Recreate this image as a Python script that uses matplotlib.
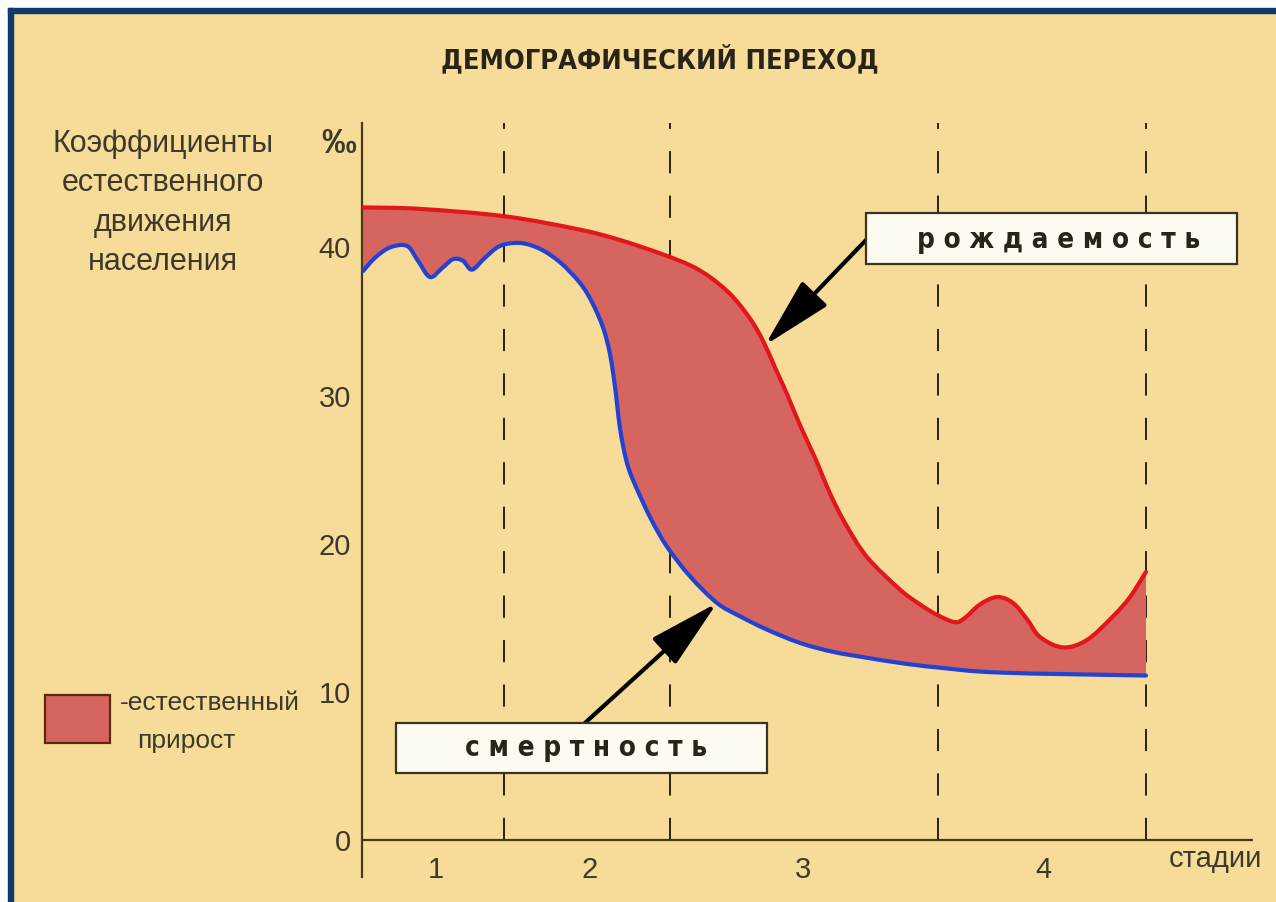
import matplotlib
matplotlib.use('Agg')
import matplotlib.pyplot as plt
from matplotlib.patches import Rectangle, PathPatch
from matplotlib.path import Path
import numpy as np

# birth rate (red) and death rate (blue), per mille; x is an arbitrary time scale
birth_x = [0.1, 5.8, 14.3, 21.8, 25.8, 29.8, 32.8, 34.8, 36.6, 37.8, 39.0, 40.1, 41.3, 42.5,
           43.8, 45.3, 46.8, 48.3, 50.5, 53.8, 55.8, 57.5, 59.3, 60.3, 61.8, 63.5, 65.1, 66.5,
           67.8, 70.1, 72.5, 75.1, 76.8, 78.4]
birth_y = [42.7, 42.6, 42.1, 41.2, 40.5, 39.6, 38.8, 38.0, 37.0, 36.1, 35.0, 33.7, 31.9, 30.1,
           28.0, 25.8, 23.4, 21.4, 19.1, 16.9, 15.9, 15.2, 14.7, 15.0, 15.9, 16.4, 16.0, 14.9,
           13.7, 13.0, 13.5, 15.1, 16.4, 18.1]
death_x = [0.1, 1.3, 2.8, 4.5, 5.6, 6.8, 8.0, 9.1, 10.1, 11.0, 12.3, 13.8, 15.8, 17.8, 19.8,
           21.8, 23.0, 24.1, 24.8, 25.3, 25.8, 26.4, 27.1, 28.8, 30.5, 32.8, 35.5, 37.8, 40.5,
           43.8, 47.1, 50.5, 53.8, 57.5, 63.8, 78.4]
death_y = [38.4, 39.3, 40.0, 40.1, 39.1, 38.0, 38.6, 39.2, 39.1, 38.5, 39.3, 40.1, 40.3, 39.9,
           39.0, 37.6, 36.3, 34.6, 32.8, 30.6, 27.8, 25.7, 24.3, 21.8, 19.8, 17.8, 16.0, 15.1,
           14.2, 13.3, 12.7, 12.3, 11.95, 11.65, 11.3, 11.1]

stage_bounds = [14.2, 30.8, 57.6, 78.4]
stage_labels = ['1', '2', '3', '4']
stage_centers = [7.4, 22.8, 44.1, 68.1]
y_ticks = [0, 10, 20, 30, 40]

BG = '#f6dc98'
TXT = '#3d3a2a'
FILL = '#d6645f'
RED = '#e2161b'
BLUE = '#2342cf'
AXC = '#4b3a1a'

W, H = 1276, 902


def fx(px):
    return px / W


def fy(py):
    return 1 - py / H


def smooth_segments(xs, ys):
    # catmull-rom through the points, expressed as cubic bezier segments
    p = np.column_stack([xs, ys])
    verts, codes = [], []
    n = len(p)
    for i in range(n - 1):
        p0 = p[max(i - 1, 0)]
        p1, p2 = p[i], p[i + 1]
        p3 = p[min(i + 2, n - 1)]
        verts += [p1 + (p2 - p0) / 6, p2 - (p3 - p1) / 6, p2]
        codes += [Path.CURVE4] * 3
    return verts, codes


def smooth_path(xs, ys):
    verts, codes = smooth_segments(xs, ys)
    return Path([(xs[0], ys[0])] + verts, [Path.MOVETO] + codes)


plt.rcParams['font.family'] = ['Liberation Sans', 'DejaVu Sans']
plt.rcParams['lines.scale_dashes'] = False

fig = plt.figure(figsize=(W / 100, H / 100), dpi=100, facecolor=BG)

# frame: white margin + navy border on top and left
fig.patches.append(Rectangle((0, fy(8)), 1, 8 / H, transform=fig.transFigure, color='white', zorder=0))
fig.patches.append(Rectangle((0, 0), 8 / W, 1, transform=fig.transFigure, color='white', zorder=0))
fig.patches.append(Rectangle((fx(8), fy(13)), 1, 5 / H, transform=fig.transFigure, color='#0d3a6a', zorder=1))
fig.patches.append(Rectangle((fx(8), 0), 5 / W, fy(8), transform=fig.transFigure, color='#0d3a6a', zorder=1))

ax = fig.add_axes([fx(362), fy(877), (1253 - 362) / W, (877 - 123) / H])
ax.set_facecolor('none')
ax.set_xlim(0, 89.1)
ax.set_ylim(-2.5, 48.4)
for side in ['top', 'right', 'bottom']:
    ax.spines[side].set_visible(False)
ax.spines['left'].set_color(AXC)
ax.spines['left'].set_linewidth(1.6)
ax.set_xticks([])
ax.set_yticks(y_ticks)
ax.set_yticklabels([str(v) for v in y_ticks])
ax.tick_params(axis='y', length=0, pad=8, labelsize=21, labelcolor=TXT)
ax.axhline(0, color=AXC, lw=1.6, zorder=2)

# stage boundaries
ax.vlines(stage_bounds, 0, 48.4, colors='#2a2010', lw=1.4, linestyles=(0, (16, 16)), zorder=1)

# natural increase area between the two smoothed curves
bv, bc = smooth_segments(birth_x, birth_y)
dv, dc = smooth_segments(death_x[::-1], death_y[::-1])
area = Path([(birth_x[0], birth_y[0])] + bv + [(death_x[-1], death_y[-1])] + dv + [(0, 0)],
            [Path.MOVETO] + bc + [Path.LINETO] + dc + [Path.CLOSEPOLY])
ax.add_patch(PathPatch(area, facecolor=FILL, lw=0, zorder=2))
ax.add_patch(PathPatch(smooth_path(birth_x, birth_y), facecolor='none', edgecolor=RED, lw=3,
                       capstyle='round', joinstyle='round', zorder=3))
ax.add_patch(PathPatch(smooth_path(death_x, death_y), facecolor='none', edgecolor=BLUE, lw=3,
                       capstyle='round', joinstyle='round', zorder=3))

for xc, lab in zip(stage_centers, stage_labels):
    ax.text(xc, -2.0, lab, ha='center', va='center', fontsize=21, color=TXT, clip_on=False)
ax.text(85.3, -1.3, 'стадии', ha='center', va='center', fontsize=21, color=TXT, clip_on=False)
ax.text(-2.3, 47.0, '‰', ha='center', va='center', fontsize=25, fontweight='bold', color=TXT, clip_on=False)

# callout boxes
cond = dict(family=['DejaVu Sans'], fontstretch='condensed', fontweight='bold', color='#2a2418')
ax.add_patch(Rectangle((50.4, 38.9), 37.1, 3.4, facecolor='#fdfaf0', edgecolor='#3b3320', lw=1.6, zorder=5))
ax.text(69.7, 40.5, 'р о ж д а е м о с т ь', ha='center', va='center', fontsize=20, zorder=6, **cond)
ax.add_patch(Rectangle((3.4, 4.5), 37.1, 3.4, facecolor='#fdfaf0', edgecolor='#3b3320', lw=1.6, zorder=5))
ax.text(22.4, 6.2, 'с м е р т н о с т ь', ha='center', va='center', fontsize=20, zorder=6, **cond)

arrow = dict(arrowstyle='-|>,head_length=1.7,head_width=0.42', color='black', lw=3,
             mutation_scale=26, shrinkA=0, shrinkB=0)
ax.annotate('', xy=(40.3, 33.4), xytext=(50.4, 40.5), arrowprops=arrow, zorder=4)
ax.annotate('', xy=(35.5, 16.0), xytext=(22.3, 7.9), arrowprops=arrow, zorder=4)

# title and y label
fig.text(fx(660), fy(60), 'ДЕМОГРАФИЧЕСКИЙ ПЕРЕХОД', ha='center', va='center', fontsize=19.5,
         family=['DejaVu Sans'], fontstretch='condensed', fontweight='bold', color='#2a2418')
fig.text(fx(163), fy(203), 'Коэффициенты\nестественного\nдвижения\nнаселения', ha='center', va='center',
         ma='center', fontsize=22, linespacing=1.4, color=TXT)

# legend swatch
fig.patches.append(Rectangle((fx(45), fy(743)), 65 / W, 48 / H, transform=fig.transFigure,
                             facecolor=FILL, edgecolor='#5a2a10', lw=1.6))
fig.text(fx(120), fy(703), '-естественный', ha='left', va='center', fontsize=19, color=TXT)
fig.text(fx(137), fy(741), 'прирост', ha='left', va='center', fontsize=19, color=TXT)

fig.savefig('out.png', dpi=100, facecolor=BG)
